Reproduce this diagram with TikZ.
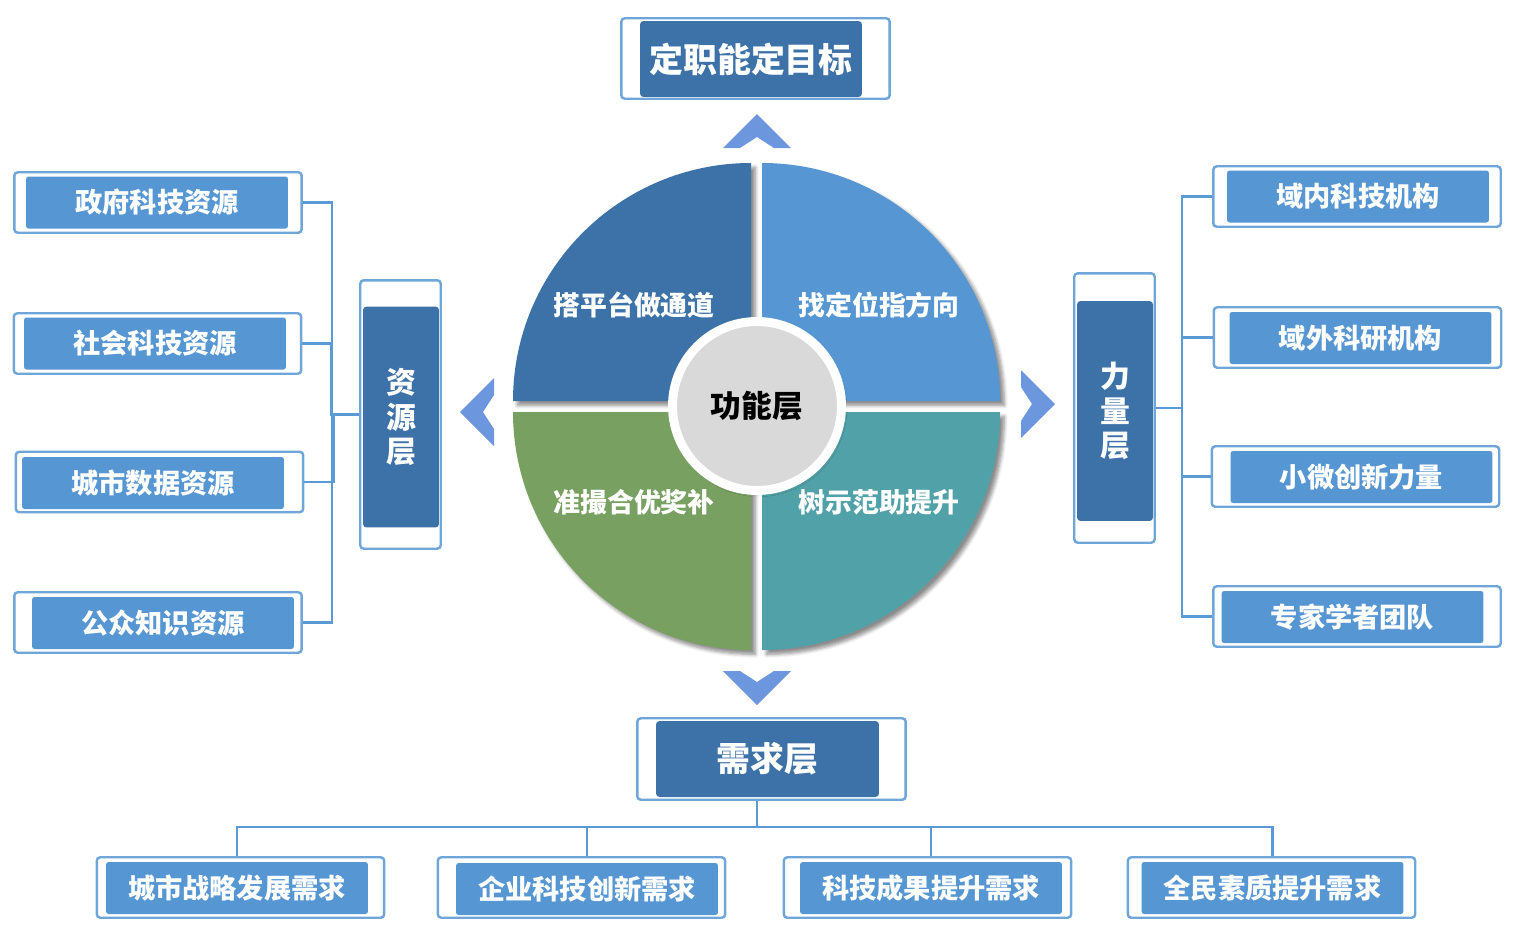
\documentclass[tikz,border=0pt]{standalone}
\usepackage{fontspec}
\setmainfont{Noto Sans CJK SC}
\usepackage{tikz}
\usetikzlibrary{shadows,shadows.blur}
\definecolor{LayerBlue}{HTML}{3D72A8}
\definecolor{ItemBlue}{HTML}{5596D3}
\definecolor{FrameBlue}{HTML}{6FA6DA}
\definecolor{LinkBlue}{HTML}{5B9BD5}
\definecolor{ChevBlue}{HTML}{6C96DE}
\definecolor{QuadGreen}{HTML}{78A161}
\definecolor{QuadTeal}{HTML}{51A1A8}
\definecolor{HubGray}{HTML}{D9D9D9}

\begin{document}
\begin{tikzpicture}[x=0.02cm,y=-0.02cm,
frame/.style={draw=FrameBlue,line width=1.4pt,fill=white,rounded corners=2pt,inner sep=0pt},
itemframe/.style={frame,minimum width=5.75cm,minimum height=1.21cm},
itembox/.style={fill=ItemBlue,rounded corners=1.5pt,text=white,inner sep=0pt,minimum width=5.24cm,minimum height=1.04cm,font=\bfseries\fontsize{15.5}{18}\selectfont},
layerbox/.style={fill=LayerBlue,rounded corners=2pt,text=white,inner sep=0pt,align=center,font=\bfseries\fontsize{19.3}{22}\selectfont},
vlayer/.style={layerbox,minimum width=1.52cm,font=\bfseries\fontsize{17}{19.8}\selectfont},
quad/.style={blur shadow={shadow xshift=2.5pt,shadow yshift=-2.5pt,shadow blur radius=2pt,shadow blur steps=6,shadow opacity=45}},
quadtext/.style={text=white,font=\bfseries\fontsize{15.3}{18}\selectfont},
hub/.style={circle,fill=HubGray,draw=white,line width=5.1pt,minimum size=3.38cm,inner sep=0pt,font=\bfseries\fontsize{17.5}{20}\selectfont,blur shadow={shadow xshift=1pt,shadow yshift=-1.5pt,shadow blur radius=2pt,shadow opacity=30}},
link/.style={draw=LinkBlue,line width=1.6pt},
chev/.pic={\fill[ChevBlue] (0,0) -- (34,34) -- (17,34) -- (0,23) -- (-17,34) -- (-34,34) -- cycle;}
]
\useasboundingbox (0,0) rectangle (1516,934);

% function layer: four quarters and the hub
\fill[LayerBlue,quad] (751,401) -- (513,401) arc[start angle=180,end angle=270,radius=238] -- cycle;
\fill[ItemBlue,quad] (762,401) -- (762,163) arc[start angle=270,end angle=360,radius=238] -- cycle;
\fill[QuadGreen,quad] (751,412) -- (513,412) arc[start angle=180,end angle=90,radius=238] -- cycle;
\fill[QuadTeal,quad] (762,412) -- (1000,412) arc[start angle=0,end angle=90,radius=238] -- cycle;
\node[quadtext] (platform) at (634,305) {搭平台做通道};
\node[quadtext] (locate) at (879,305) {找定位指方向};
\node[quadtext] (match) at (634,502) {准撮合优奖补};
\node[quadtext] (model) at (879,502) {树示范助提升};
\node[hub] (hub) at (757,406) {功能层};

% arrows round the circle
\pic at (757,114) {chev};
\pic[rotate=180] at (757,705) {chev};
\pic[rotate=90] at (460,412) {chev};
\pic[rotate=-90] at (1055,404) {chev};

% goal
\node[frame,minimum width=5.37cm,minimum height=1.61cm] (goal) at (755.5,58.5) {};
\node[layerbox,minimum width=4.44cm,minimum height=1.52cm] (goalin) at (751,59) {定职能定目标};

% resource layer
\node[frame,minimum width=1.61cm,minimum height=5.37cm] (res) at (400.5,414.5) {};
\node[vlayer,minimum height=4.42cm] (resin) at (401,417) {资\\源\\层};
\node[itemframe] (gov) at (158,202.5) {};
\node[itembox] (govin) at (157,202.5) {政府科技资源};
\node[itemframe] (soc) at (157.5,343.5) {};
\node[itembox] (socin) at (155,343.5) {社会科技资源};
\node[itemframe] (city) at (159.5,482) {};
\node[itembox] (cityin) at (153,483) {城市数据资源};
\node[itemframe] (pub) at (158,622.5) {};
\node[itembox] (pubin) at (163,623) {公众知识资源};

% force layer
\node[frame,minimum width=1.61cm,minimum height=5.39cm] (force) at (1114.5,408) {};
\node[vlayer,minimum height=4.40cm] (forcein) at (1115,411) {力\\量\\层};
\node[itemframe] (inner) at (1357,196.5) {};
\node[itembox] (innerin) at (1358,196.5) {域内科技机构};
\node[itemframe] (outer) at (1357.5,337.5) {};
\node[itembox] (outerin) at (1360.5,338) {域外科研机构};
\node[itemframe] (small) at (1355.5,476.5) {};
\node[itembox] (smallin) at (1361.5,477) {小微创新力量};
\node[itemframe] (expert) at (1357,616.5) {};
\node[itembox] (expertin) at (1352.5,617) {专家学者团队};

% demand layer
\node[frame,minimum width=5.37cm,minimum height=1.63cm] (demand) at (771.5,759) {};
\node[layerbox,minimum width=4.46cm,minimum height=1.52cm] (demandin) at (767.5,759) {需求层};
\node[itemframe] (urban) at (240.5,887.5) {};
\node[itembox] (urbanin) at (237,888) {城市战略发展需求};
\node[itemframe] (firm) at (581.5,887.5) {};
\node[itembox] (firmin) at (587,889) {企业科技创新需求};
\node[itemframe] (result) at (927.5,887.5) {};
\node[itembox] (resultin) at (931,888) {科技成果提升需求};
\node[itemframe] (public) at (1271.5,887.5) {};
\node[itembox] (publicin) at (1272.5,888) {全民素质提升需求};

% tree connectors
\foreach \n in {gov,soc,city,pub}
  \draw[link] (\n.east) -- ++(29,0) |- (res.west);
\foreach \n in {inner,outer,small,expert}
  \draw[link] (force.east) -- ++(26,0) |- (\n.west);
\foreach \n in {urban,firm,result,public}
  \draw[link] (hub |- demand.south) -- ++(0,26) -| (\n in.north |- \n.north);
\end{tikzpicture}
\end{document}
